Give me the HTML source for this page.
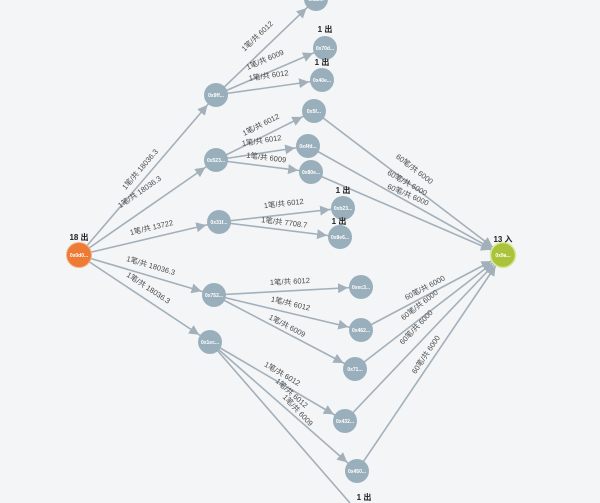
<!DOCTYPE html>
<html><head><meta charset="utf-8"><style>
html,body{margin:0;padding:0;background:#f3f5f7;width:600px;height:503px;overflow:hidden}
svg{display:block;overflow:hidden}
.e{stroke:#a3b0ba;stroke-width:1.6;fill:none}
.l{font:7.5px "Liberation Sans","Noto Sans CJK SC",sans-serif;fill:#4a4a4a}
.n{fill:#9aafbc}
.t{font:bold 5px "Liberation Sans",sans-serif;fill:#fff}
.h{font:bold 8px "Liberation Sans","Noto Sans CJK SC",sans-serif;fill:#222}
</style></head><body>
<svg width="600" height="503" viewBox="0 0 600 503" xmlns="http://www.w3.org/2000/svg">
<defs><marker id="a" markerUnits="userSpaceOnUse" markerWidth="40" markerHeight="14" refX="23" refY="5" orient="auto" viewBox="0 0 40 10"><path d="M0,0 L10,5 L0,10 z" fill="#a3b0ba"/></marker></defs>
<g class="e" marker-end="url(#a)">
<line x1="79" y1="255" x2="216" y2="95"/>
<line x1="79" y1="255" x2="216" y2="160"/>
<line x1="79" y1="255" x2="219" y2="222"/>
<line x1="79" y1="255" x2="214" y2="295"/>
<line x1="79" y1="255" x2="210" y2="342"/>
<line x1="216" y1="95" x2="316" y2="-1"/>
<line x1="216" y1="95" x2="325" y2="48"/>
<line x1="216" y1="95" x2="322" y2="80"/>
<line x1="216" y1="160" x2="314" y2="111"/>
<line x1="216" y1="160" x2="308" y2="146"/>
<line x1="216" y1="160" x2="311" y2="172"/>
<line x1="219" y1="222" x2="343" y2="208"/>
<line x1="219" y1="222" x2="340" y2="237"/>
<line x1="214" y1="295" x2="361" y2="287"/>
<line x1="214" y1="295" x2="361" y2="330"/>
<line x1="214" y1="295" x2="355" y2="369"/>
<line x1="210" y1="342" x2="345" y2="421"/>
<line x1="210" y1="342" x2="357" y2="471"/>
<line x1="314" y1="111" x2="503" y2="255"/>
<line x1="308" y1="146" x2="503" y2="255"/>
<line x1="311" y1="172" x2="503" y2="255"/>
<line x1="361" y1="330" x2="503" y2="255"/>
<line x1="355" y1="369" x2="503" y2="255"/>
<line x1="345" y1="421" x2="503" y2="255"/>
<line x1="357" y1="471" x2="503" y2="255"/>
</g>
<line class="e" x1="210" y1="342" x2="350" y2="503"/>
<g class="l" text-anchor="middle">
<text transform="translate(142,171) rotate(-49.4)">1笔/共 18036.3</text>
<text transform="translate(141,194) rotate(-34.7)">1笔/共 18036.3</text>
<text transform="translate(152,230) rotate(-13.3)">1笔/共 13722</text>
<text transform="translate(150,268) rotate(16.5)">1笔/共 18036.3</text>
<text transform="translate(147,290) rotate(33.6)">1笔/共 18036.3</text>
<text transform="translate(259,38) rotate(-43.5)">1笔/共 6012</text>
<text transform="translate(266,62) rotate(-23.3)">1笔/共 6009</text>
<text transform="translate(269,78) rotate(-8)">1笔/共 6012</text>
<text transform="translate(262,127) rotate(-26.6)">1笔/共 6012</text>
<text transform="translate(262,143) rotate(-8.7)">1笔/共 6012</text>
<text transform="translate(266,160) rotate(7.2)">1笔/共 6009</text>
<text transform="translate(284,206) rotate(-6.4)">1笔/共 6012</text>
<text transform="translate(284,225) rotate(7)">1笔/共 7708.7</text>
<text transform="translate(290,284) rotate(-3)">1笔/共 6012</text>
<text transform="translate(290,306) rotate(13.4)">1笔/共 6012</text>
<text transform="translate(286,328) rotate(27.7)">1笔/共 6009</text>
<text transform="translate(281,376) rotate(30.3)">1笔/共 6012</text>
<text transform="translate(290,395) rotate(41.3)">1笔/共 6012</text>
<text transform="translate(296,412) rotate(46.4)">1笔/共 6009</text>
<text transform="translate(413,171) rotate(37.3)">60笔/共 6000</text>
<text transform="translate(406,185) rotate(29.2)">60笔/共 6000</text>
<text transform="translate(407,197) rotate(23.4)">60笔/共 6000</text>
<text transform="translate(426,290) rotate(-27.8)">60笔/共 6000</text>
<text transform="translate(421,307) rotate(-37.6)">60笔/共 6000</text>
<text transform="translate(418,329) rotate(-46.4)">60笔/共 6000</text>
<text transform="translate(428,356) rotate(-56)">60笔/共 6000</text>
</g>
<g>
<circle cx="79" cy="255" r="12.5" fill="#ee7b35" stroke="#f4b58c" stroke-width="1"/>
<circle cx="503" cy="255" r="12.5" fill="#a9c43a" stroke="#dbe8a0" stroke-width="1.5"/>
<g class="n">
<circle cx="216" cy="95" r="12"/><circle cx="216" cy="160" r="12"/><circle cx="219" cy="222" r="12"/>
<circle cx="214" cy="295" r="12"/><circle cx="210" cy="342" r="12"/>
<circle cx="316" cy="-1" r="12"/><circle cx="325" cy="48" r="12"/><circle cx="322" cy="80" r="12"/>
<circle cx="314" cy="111" r="12"/><circle cx="308" cy="146" r="12"/><circle cx="311" cy="172" r="12"/>
<circle cx="343" cy="208" r="12"/><circle cx="340" cy="237" r="12"/>
<circle cx="361" cy="287" r="12"/><circle cx="361" cy="330" r="12"/><circle cx="355" cy="369" r="12"/>
<circle cx="345" cy="421" r="12"/><circle cx="357" cy="471" r="12"/>
</g>
<g class="t" text-anchor="middle">
<text x="79" y="257">0x0d0...</text><text x="503" y="257">0x9a...</text>
<text x="216" y="97">0x9ff...</text><text x="216" y="162">0x523...</text><text x="219" y="224">0x31f...</text>
<text x="214" y="297">0x752...</text><text x="210" y="344">0x1ec...</text>
<text x="316" y="1">0x82...</text><text x="325" y="50">0x70d...</text><text x="322" y="82">0x40e...</text>
<text x="314" y="113">0x5f...</text><text x="308" y="148">0x4fd...</text><text x="311" y="174">0x80e...</text>
<text x="343" y="210">0xb23...</text><text x="340" y="239">0x8e6...</text>
<text x="361" y="289">0xec3...</text><text x="361" y="332">0x462...</text><text x="355" y="371">0x71...</text>
<text x="345" y="423">0x432...</text><text x="357" y="473">0x450...</text>
</g>
<g class="h" text-anchor="middle">
<text x="79" y="240">18 出</text><text x="503" y="242">13 入</text>
<text x="325" y="32">1 出</text><text x="322" y="65">1 出</text>
<text x="343" y="193">1 出</text><text x="339" y="224">1 出</text>
<text x="364" y="500">1 出</text>
</g>
</g>
</svg>
</body></html>
